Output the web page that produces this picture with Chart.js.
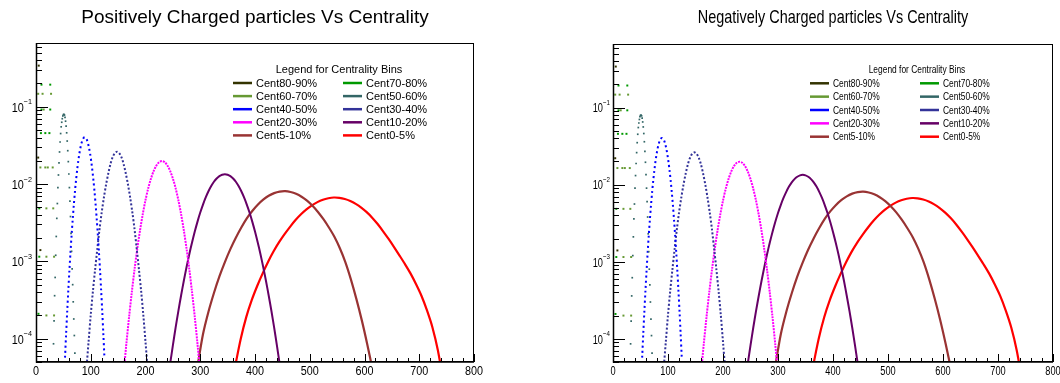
<!DOCTYPE html>
<html>
<head>
<meta charset="utf-8">
<title>Charged particles Vs Centrality</title>
<script src="https://cdn.jsdelivr.net/npm/chart.js@4.4.1/dist/chart.umd.min.js"></script>
<style>
  html, body { margin: 0; padding: 0; background: #fff; }
  #wrap { position: relative; width: 1060px; height: 383px; overflow: hidden; }
  canvas { position: absolute; top: 0; }
  #chart-pos { left: 0; }
  #chart-neg { left: 530px; }
</style>
</head>
<body>
<div id="wrap">
  <canvas id="chart-pos" width="530" height="383"></canvas>
  <canvas id="chart-neg" width="530" height="383"></canvas>
</div>
<script>
// --- AXES ---
const X_MIN = 0, X_MAX = 800, X_MINOR_STEP = 20;
const Y_MIN = 5e-5, Y_MAX = 0.667;
const xTickValues = [0, 100, 200, 300, 400, 500, 600, 700, 800];
const xTickLabels = ["0", "100", "200", "300", "400", "500", "600", "700", "800"];
const yTickValues = [1e-4, 1e-3, 1e-2, 1e-1];
const yTickBase = "10";
const yTickExps = ["\u22124", "\u22123", "\u22122", "\u22121"];

// --- CATEGORIES ---
const centralityBins = ["Cent80-90%", "Cent70-80%", "Cent60-70%", "Cent50-60%", "Cent40-50%",
  "Cent30-40%", "Cent20-30%", "Cent10-20%", "Cent5-10%", "Cent0-5%"];
const binColors = ["#333300", "#009900", "#669933", "#336666", "#0000ff",
  "#333399", "#ff00ff", "#660066", "#993333", "#ff0000"];

// --- SERIES (multiplicity, normalised yield) ---
// the peripheral bins only have a handful of filled bins near zero
const cent8090X = [4, 5, 8];
const cent8090Y = [0.022, 0.34, 0.0014];
const cent7080X = [4.5, 6, 6, 9, 10, 10, 17, 24.5, 26, 26];
const cent7080Y = [2.1e-4, 4.85e-3, 1.15e-3, 0.0456, 0.193, 0.092, 0.0456, 0.0456, 0.193, 0.092];
const cent6070X = [4, 8, 12, 14, 17, 19, 19, 19, 21.5, 27.5, 30.5, 31.5, 33, 33];
const cent6070Y = [0.147, 0.0164, 0.147, 0.092, 0.0164, 4.85e-3, 1.15e-3, 2.0e-4, 0.0164, 0.147,
  0.0164, 4.85e-3, 1.15e-3, 2.0e-4];

const cent5060X = [32, 33, 34, 35, 36, 37, 38, 39, 40, 41, 42, 43, 44, 45, 46, 47, 48, 49, 50, 51,
  52, 53, 54, 55, 56, 57, 58, 59, 60, 61, 62, 63, 64, 65, 66, 67, 68, 69, 70, 71];
const cent5060Y = [8.6e-5, 1.7e-4, 3.6e-4, 6.2e-4, 1.2e-3, 2.1e-3, 3.6e-3, 5.6e-3, 9.0e-3, 1.31e-2,
  1.88e-2, 2.6e-2, 3.5e-2, 4.5e-2, 5.5e-2, 6.3e-2, 7.0e-2, 7.6e-2, 7.9e-2, 8.0e-2,
  7.8e-2, 7.3e-2, 6.5e-2, 5.6e-2, 4.6e-2, 3.6e-2, 2.7e-2, 1.95e-2, 1.35e-2, 9.0e-3,
  6.0e-3, 3.8e-3, 2.3e-3, 1.35e-3, 8.0e-4, 5.0e-4, 3.0e-4, 1.8e-4, 1.1e-4, 6.5e-5];

const cent4050X = [53, 55, 57, 59, 61, 63, 65, 67, 69, 71, 73, 75, 77, 79, 81, 83, 85, 87, 89,
  91, 93, 95, 97, 99, 101, 103, 105, 107, 109, 111, 113, 115, 117, 119, 121, 123, 125];
const cent4050Y = [5.7e-5, 1.15e-4, 2.25e-4, 4.2e-4, 7.6e-4, 1.31e-3, 2.18e-3, 3.47e-3, 5.3e-3, 7.8e-3,
  1.1e-2, 1.49e-2, 1.94e-2, 2.43e-2, 2.91e-2, 3.36e-2, 3.72e-2, 3.95e-2, 4.03e-2,
  3.95e-2, 3.72e-2, 3.36e-2, 2.91e-2, 2.43e-2, 1.94e-2, 1.49e-2, 1.1e-2, 7.8e-3, 5.3e-3,
  3.47e-3, 2.18e-3, 1.31e-3, 7.6e-4, 4.2e-4, 2.25e-4, 1.15e-4, 5.7e-5];

const cent3040X = [92, 96, 100, 104, 108, 112, 116, 120, 124, 128, 132, 136, 140, 144, 148,
  152, 156, 160, 164, 168, 172, 176, 180, 184, 188, 192, 196, 200, 204];
const cent3040Y = [4.0e-5, 9.1e-5, 2.04e-4, 4.15e-4, 7.9e-4, 1.45e-3, 2.6e-3, 4.3e-3, 6.68e-3, 9.86e-3,
  1.37e-2, 1.82e-2, 2.23e-2, 2.51e-2, 2.62e-2, 2.51e-2, 2.23e-2, 1.82e-2, 1.37e-2, 9.86e-3,
  6.68e-3, 4.3e-3, 2.6e-3, 1.45e-3, 7.9e-4, 4.15e-4, 2.04e-4, 9.1e-5, 4.0e-5];

const cent2030X = [160, 165, 170, 175, 180, 185, 190, 195, 200, 205, 210, 215, 220, 225, 230,
  235, 240, 245, 250, 255, 260, 265, 270, 275, 280, 285, 290, 295, 300];
const cent2030Y = [3.6e-5, 8.5e-5, 1.91e-4, 4.0e-4, 7.9e-4, 1.46e-3, 2.52e-3, 4.08e-3, 6.21e-3, 8.85e-3,
  1.18e-2, 1.48e-2, 1.74e-2, 1.92e-2, 1.98e-2, 1.92e-2, 1.74e-2, 1.48e-2, 1.18e-2, 8.85e-3,
  6.21e-3, 4.08e-3, 2.52e-3, 1.46e-3, 7.9e-4, 4.0e-4, 1.91e-4, 8.5e-5, 3.6e-5];

const cent1020X = [245, 250, 255, 260, 265, 270, 275, 280, 285, 290, 295, 300, 305, 310, 315, 320,
  325, 330, 335, 340, 345, 350, 355, 360, 365, 370, 375, 380, 385, 390, 395, 400, 405, 410,
  415, 420, 425, 430, 435, 440, 445];
const cent1020Y = [4.75e-5, 8.2e-5, 1.39e-4, 2.28e-4, 3.62e-4, 5.61e-4, 8.45e-4, 1.24e-3, 1.76e-3,
  2.43e-3, 3.27e-3, 4.28e-3, 5.43e-3, 6.71e-3, 8.06e-3, 9.42e-3, 1.07e-2, 1.18e-2, 1.265e-2,
  1.32e-2, 1.34e-2, 1.32e-2, 1.265e-2, 1.18e-2, 1.07e-2, 9.42e-3, 8.06e-3, 6.71e-3, 5.43e-3,
  4.28e-3, 3.27e-3, 2.43e-3, 1.76e-3, 1.24e-3, 8.45e-4, 5.61e-4, 3.62e-4, 2.28e-4, 1.39e-4,
  8.2e-5, 4.75e-5];

const cent510X = [295, 305, 315, 325, 335, 345, 355, 365, 375, 385, 395, 405, 415, 425, 435, 445,
  455, 465, 475, 485, 495, 505, 515, 525, 535, 545, 555, 565, 575, 585, 595, 605, 615];
const cent510Y = [4.4e-5, 1.14e-4, 2.23e-4, 3.9e-4, 6.4e-4, 9.8e-4, 1.44e-3, 2.02e-3, 2.74e-3, 3.6e-3,
  4.49e-3, 5.41e-3, 6.28e-3, 7.05e-3, 7.64e-3, 8.0e-3, 8.1e-3, 7.9e-3, 7.48e-3, 6.86e-3,
  6.1e-3, 5.24e-3, 4.36e-3, 3.51e-3, 2.74e-3, 2.08e-3, 1.48e-3, 9.8e-4, 5.9e-4, 3.3e-4,
  1.74e-4, 8.5e-5, 3.9e-5];

const cent05X = [364, 374, 384, 394, 404, 414, 424, 434, 444, 454, 464, 474, 484, 494, 504, 514,
  524, 534, 544, 554, 564, 574, 584, 594, 604, 614, 624, 634, 644, 654, 664, 674, 684, 694,
  704, 714, 724, 734, 744];
const cent05Y = [4.5e-5, 1.0e-4, 1.9e-4, 3.15e-4, 4.8e-4, 7.0e-4, 9.9e-4, 1.35e-3, 1.77e-3, 2.25e-3,
  2.8e-3, 3.42e-3, 4.06e-3, 4.7e-3, 5.3e-3, 5.84e-3, 6.27e-3, 6.55e-3, 6.7e-3, 6.64e-3,
  6.42e-3, 6.05e-3, 5.55e-3, 4.97e-3, 4.33e-3, 3.68e-3, 3.04e-3, 2.45e-3, 1.95e-3, 1.53e-3,
  1.19e-3, 9.2e-4, 7.0e-4, 5.1e-4, 3.6e-4, 2.34e-4, 1.41e-4, 7.1e-5, 2.8e-5];

// the negative-particle panel reads the same as the positive one at this resolution
const seriesX = [cent8090X, cent7080X, cent6070X, cent5060X, cent4050X,
  cent3040X, cent2030X, cent1020X, cent510X, cent05X];
const seriesY = [cent8090Y, cent7080Y, cent6070Y, cent5060Y, cent4050Y,
  cent3040Y, cent2030Y, cent1020Y, cent510Y, cent05Y];

// --- STYLE ---
// peripheral bins are loose markers, the rest are drawn as curves
const seriesStyle = [
  { line: false, point: 1.4 }, { line: false, point: 1.4 }, { line: false, point: 1.4 },
  { line: false, point: 1.2 },
  { line: true, width: 2, dash: [2, 3] },
  { line: true, width: 2, dash: [2, 2] },
  { line: true, width: 2, dash: [2, 1] },
  { line: true, width: 2 },
  { line: true, width: 2.2 },
  { line: true, width: 2.2 },
];

const SANS = "'Liberation Sans', Arial, Helvetica, sans-serif";

/**
 * Writes text squeezed horizontally by sx (the right hand panel uses a condensed face).
 */
function drawSqueezed(ctx, text, x, y, font, sx, align) {
  ctx.save();
  ctx.font = font;
  ctx.textAlign = align;
  ctx.translate(x, y);
  ctx.scale(sx, 1);
  ctx.fillText(text, 0, 0);
  ctx.restore();
}

/**
 * Draws the ROOT style frame and the inward pointing tick marks.
 */
const rootAxesPlugin = {
  id: "rootAxes",
  afterDatasetsDraw(chart) {
    const { ctx, chartArea: a, scales } = chart;
    const xs = scales.x, ys = scales.y;
    const left = Math.round(a.left), right = Math.round(a.right);
    const top = Math.round(a.top), bottom = Math.round(a.bottom);
    ctx.save();
    ctx.strokeStyle = "#000";
    ctx.lineWidth = 1;
    ctx.strokeRect(left + 0.5, top + 0.5, right - left - 1, bottom - top - 1);
    ctx.beginPath();
    for (let v = X_MIN; v <= X_MAX; v += X_MINOR_STEP) {
      const px = Math.round(xs.getPixelForValue(v)) + 0.5;
      const len = v % 100 === 0 ? 8 : 4;
      ctx.moveTo(px, bottom);
      ctx.lineTo(px, bottom - len);
    }
    for (let e = -5; e <= 0; e++) {
      for (let m = 1; m <= 9; m++) {
        const v = m * Math.pow(10, e);
        if (v < Y_MIN || v > Y_MAX) continue;
        const py = Math.round(ys.getPixelForValue(v)) + 0.5;
        ctx.moveTo(left, py);
        ctx.lineTo(left + (m === 1 ? 12 : 6), py);
      }
    }
    ctx.stroke();
    // axis lines a bit heavier, like the original
    ctx.lineWidth = 1.5;
    ctx.beginPath();
    ctx.moveTo(left + 0.5, top);
    ctx.lineTo(left + 0.5, bottom);
    ctx.lineTo(right, bottom);
    ctx.stroke();
    ctx.restore();
  }
};

/**
 * Title and tick labels (10 with a raised exponent on the log axis).
 */
const rootTextPlugin = {
  id: "rootText",
  afterDraw(chart, args, o) {
    const { ctx, chartArea: a, scales } = chart;
    ctx.save();
    ctx.fillStyle = "#000";
    ctx.textBaseline = "middle";
    drawSqueezed(ctx, o.title, (a.left + a.right) / 2, o.titleY, o.titleFont, o.titleSqueeze, "center");
    xTickValues.forEach((v, i) => {
      drawSqueezed(ctx, xTickLabels[i], scales.x.getPixelForValue(v), a.bottom + o.xLabelGap,
        o.tickFont, o.tickSqueeze, "center");
    });
    yTickValues.forEach((v, i) => {
      const py = scales.y.getPixelForValue(v);
      const xr = a.left - o.yLabelGap;
      ctx.font = o.expFont;
      const ew = ctx.measureText(yTickExps[i]).width * o.tickSqueeze;
      drawSqueezed(ctx, yTickExps[i], xr, py - 4.5, o.expFont, o.tickSqueeze, "right");
      drawSqueezed(ctx, yTickBase, xr - ew, py + 1.5, o.tickFont, o.tickSqueeze, "right");
    });
    ctx.restore();
  }
};

/**
 * Two column legend with a title, placed inside the frame.
 */
const binLegendPlugin = {
  id: "binLegend",
  afterDraw(chart, args, o) {
    const ctx = chart.ctx;
    ctx.save();
    ctx.fillStyle = "#000";
    ctx.textBaseline = "middle";
    drawSqueezed(ctx, o.title, o.titleX, o.titleY, o.titleFont, o.squeeze, "center");
    chart.data.datasets.forEach((ds, i) => {
      const lx = o.colX[i % 2];
      const ly = o.rowY + Math.floor(i / 2) * o.rowGap;
      ctx.strokeStyle = ds.legendColor;
      ctx.lineWidth = 2.5;
      ctx.beginPath();
      ctx.moveTo(lx, ly);
      ctx.lineTo(lx + o.lineLen, ly);
      ctx.stroke();
      drawSqueezed(ctx, ds.label, lx + o.lineLen + o.gap, ly + 0.5, o.font, o.squeeze, "left");
    });
    ctx.restore();
  }
};

function buildDatasets() {
  return centralityBins.map((label, i) => {
    const st = seriesStyle[i];
    return {
      label: label,
      data: seriesX[i].map((x, j) => ({ x: x, y: seriesY[i][j] })),
      legendColor: binColors[i],
      borderColor: binColors[i],
      backgroundColor: binColors[i],
      showLine: st.line,
      borderWidth: st.width || 0,
      borderDash: st.dash || [],
      pointRadius: st.line ? 0 : st.point,
      pointStyle: "rect",
      pointBorderWidth: 0,
      tension: 0.3,
    };
  });
}

function createPanel(canvasId, cfg) {
  return new Chart(document.getElementById(canvasId), {
    type: "scatter",
    data: { datasets: buildDatasets() },
    plugins: [rootAxesPlugin, rootTextPlugin, binLegendPlugin],
    options: {
      responsive: false,
      animation: false,
      events: [],
      layout: { padding: { left: 0, right: cfg.padRight, top: cfg.padTop, bottom: 0 } },
      plugins: {
        legend: { display: false },
        tooltip: { enabled: false },
        title: { display: false },
        rootText: cfg.text,
        binLegend: cfg.legend,
      },
      scales: {
        x: {
          type: "linear",
          min: X_MIN,
          max: X_MAX,
          grid: { display: false, drawTicks: false },
          border: { display: false },
          ticks: { display: false },
          afterFit: s => { s.height = 21; },
        },
        y: {
          type: "logarithmic",
          min: Y_MIN,
          max: Y_MAX,
          grid: { display: false, drawTicks: false },
          border: { display: false },
          ticks: { display: false },
          afterFit: s => { s.width = cfg.yWidth; },
        },
      },
    },
  });
}

createPanel("chart-pos", {
  padTop: 43, padRight: 56, yWidth: 36,
  text: {
    title: "Positively Charged particles Vs Centrality", titleFont: "19px " + SANS,
    titleSqueeze: 1, titleY: 17.5,
    tickFont: "12px " + SANS, expFont: "8px " + SANS, tickSqueeze: 0.9,
    xLabelGap: 9.5, yLabelGap: 4,
  },
  legend: {
    title: "Legend for Centrality Bins", titleFont: "11px " + SANS, font: "11px " + SANS, squeeze: 1,
    titleX: 339, titleY: 69.5, colX: [233, 343], rowY: 83, rowGap: 13.1, lineLen: 19, gap: 4,
  },
});

createPanel("chart-neg", {
  padTop: 44, padRight: 7, yWidth: 83,
  text: {
    title: "Negatively Charged particles Vs Centrality", titleFont: "18.5px " + SANS,
    titleSqueeze: 0.78, titleY: 18,
    tickFont: "12px " + SANS, expFont: "8px " + SANS, tickSqueeze: 0.77,
    xLabelGap: 9.5, yLabelGap: 3,
  },
  legend: {
    title: "Legend for Centrality Bins", titleFont: "11.5px " + SANS, font: "11.5px " + SANS, squeeze: 0.73,
    titleX: 387, titleY: 70, colX: [280, 390], rowY: 83.3, rowGap: 13.35, lineLen: 19, gap: 4,
  },
});
</script>
</body>
</html>
